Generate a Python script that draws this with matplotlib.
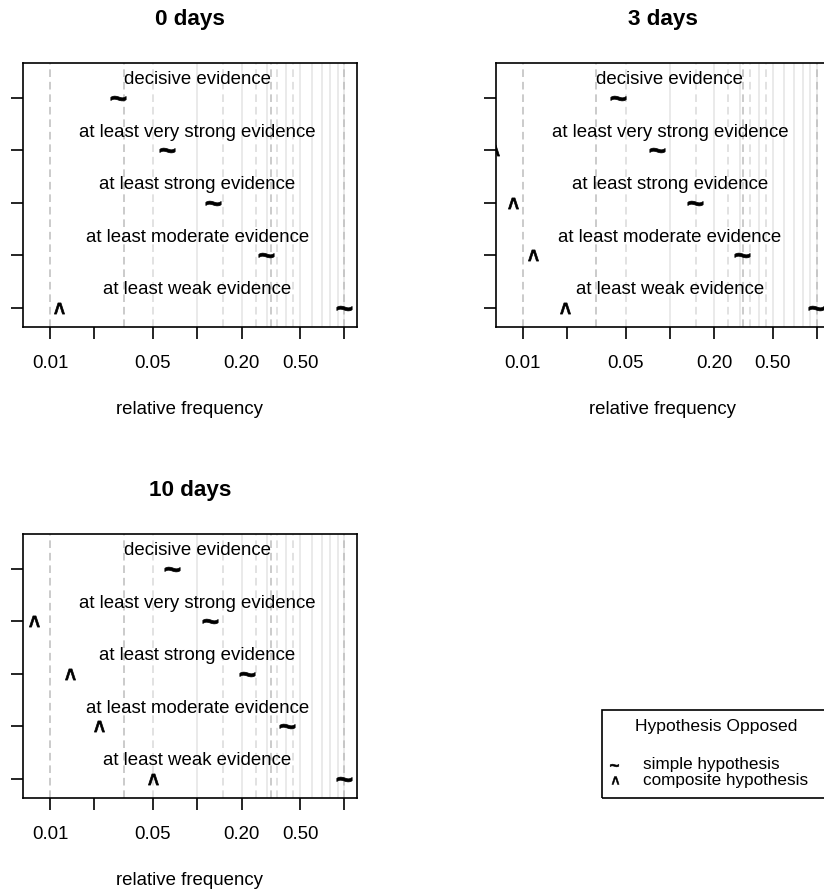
import numpy as np
import matplotlib
matplotlib.use("Agg")
import matplotlib.pyplot as plt
from matplotlib.textpath import TextPath
from matplotlib.font_manager import FontProperties
from matplotlib.path import Path
from matplotlib.lines import Line2D
from matplotlib.patches import Rectangle
from matplotlib.ticker import NullLocator

plt.rcParams['font.family'] = ['Liberation Sans', 'DejaVu Sans']
plt.rcParams['lines.scale_dashes'] = False

# panels and evidence levels (row 1 = bottom)
panel_titles = ['0 days', '3 days', '10 days']
levels = ['at least weak evidence', 'at least moderate evidence',
          'at least strong evidence', 'at least very strong evidence',
          'decisive evidence']

# relative frequencies (nan = not shown)
simple_0 = [1.0, 0.293, 0.128, 0.0624, 0.029]
composite_0 = [0.0115, np.nan, np.nan, np.nan, np.nan]
simple_3 = [0.99, 0.307, 0.148, 0.0822, 0.0446]
composite_3 = [0.0194, 0.0118, 0.00855, 0.0064, np.nan]
simple_10 = [1.0, 0.405, 0.219, 0.122, 0.0671]
composite_10 = [0.0503, 0.0215, 0.0137, 0.00782, np.nan]

simple = [simple_0, simple_3, simple_10]
composite = [composite_0, composite_3, composite_10]

# axis ticks
xtick_values = [0.01, 0.02, 0.05, 0.1, 0.2, 0.5, 1.0]
xtick_labels = ['0.01', '', '0.05', '', '0.20', '0.50', '']

# reference lines
dark_lines = [10 ** -2, 10 ** -1.5, 10 ** -0.5, 10 ** 0]
light_dashed = [0.05, 0.15, 0.25, 0.35, 0.45]
light_solid = [0.1, 0.2, 0.3, 0.4, 0.5, 0.6, 0.7, 0.8, 0.9, 1.0]


def glyph(ch, stretch=1.0):
    # character outline centred on its own bounding box, for use as a marker
    tp = TextPath((0, 0), ch, size=1,
                  prop=FontProperties(family='Liberation Sans', weight='bold'))
    codes = tp.codes
    keep = codes != Path.CLOSEPOLY
    v = tp.vertices.copy()
    x0, y0 = v[keep].min(axis=0)
    x1, y1 = v[keep].max(axis=0)
    v = v - [(x0 + x1) / 2, (y0 + y1) / 2]
    v[:, 1] *= stretch
    v[~keep] = 0
    return Path(v, codes)


tilde = glyph('~')
caret = glyph('^', stretch=1.35)

W, H = 824, 893
fig = plt.figure(figsize=(W / 100, H / 100), dpi=100)

aw, ah = 333.4, 264.6
corners = [(23.3, 62.7), (496.0, 62.7), (23.3, 533.7)]

rows = np.arange(1, len(levels) + 1)

for i, (left, top) in enumerate(corners):
    ax = fig.add_axes([left / W, 1 - (top + ah) / H, aw / W, ah / H])
    ax.set_xscale('log')
    ax.set_xlim(0.00659, 1.212)
    ax.set_ylim(0.627, 5.667)

    for v in light_solid:
        ax.axvline(v, color='#e4e4e4', lw=1.1, zorder=1)
    for v in light_dashed:
        ax.axvline(v, color='#dadada', lw=1.1, dashes=(5.5, 3.5), zorder=1)
    for v in dark_lines:
        ax.axvline(v, color='#bdbdbd', lw=1.1, dashes=(5.5, 3.5), zorder=1.5)

    ax.plot(simple[i], rows, ls='none', marker=tilde, ms=11,
            color='black', mew=0.5, zorder=3)
    ax.plot(composite[i], rows, ls='none', marker=caret, ms=8,
            color='black', mew=0.5, zorder=3)

    for r, lab in zip(rows, levels):
        ax.text(0.1, r + 0.26, lab, ha='center', va='baseline', fontsize=13.4)

    ax.set_xticks(xtick_values)
    ax.set_xticklabels(xtick_labels)
    ax.xaxis.set_minor_locator(NullLocator())
    ax.set_yticks(rows)
    ax.set_yticklabels([])
    ax.tick_params(axis='both', direction='out', length=8.6, width=1.2,
                   labelsize=13.4, pad=11)
    for s in ax.spines.values():
        s.set_linewidth(1.2)

    ax.set_title(panel_titles[i], fontweight='bold', fontsize=16.2, pad=27)
    ax.set_xlabel('relative frequency', fontsize=13.4, labelpad=21)

# legend box
fig.add_artist(Rectangle((601.7 / W, 1 - 798 / H), (840 - 601.7) / W, 88 / H,
                         transform=fig.transFigure, fill=False,
                         edgecolor='black', lw=1.2))
fig.text(716 / W, 1 - 726.7 / H, 'Hypothesis Opposed', ha='center',
         va='center', fontsize=12.6)
fig.add_artist(Line2D([614 / W], [1 - 765 / H], marker=tilde, ms=6.2,
                      color='black', mew=0.4, transform=fig.transFigure))
fig.add_artist(Line2D([615 / W], [1 - 780 / H], marker=caret, ms=5.6,
                      color='black', mew=0.4, transform=fig.transFigure))
fig.text(643 / W, 1 - 765 / H, 'simple hypothesis', ha='left', va='center',
         fontsize=12.3)
fig.text(643 / W, 1 - 780 / H, 'composite hypothesis', ha='left', va='center',
         fontsize=12.3)

fig.savefig('out.png', dpi=100, facecolor='white')
